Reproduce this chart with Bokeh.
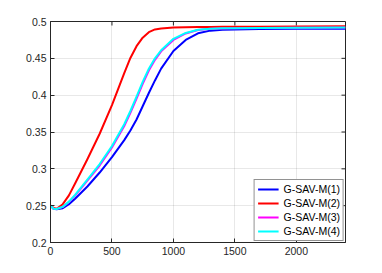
import math
from bokeh.plotting import figure
from bokeh.models import Range1d, FixedTicker, LinearAxis, Legend, LegendItem, CustomJSTickFormatter
from bokeh.embed import file_html
from bokeh.resources import INLINE

t  = [0, 25, 50, 100, 150, 200, 300, 400, 500, 600, 650, 700, 750, 800, 850, 900, 1000, 1100, 1200, 1300, 1400, 1500, 1700, 2000, 2400]
m1 = [0.250, 0.2458, 0.2452, 0.2465, 0.2520, 0.2595, 0.2760, 0.2950, 0.3160, 0.3390, 0.3520, 0.3670, 0.3850, 0.4030, 0.4200, 0.4360, 0.4600, 0.4750, 0.4840, 0.4876, 0.4887, 0.4893, 0.4897, 0.4900, 0.4903]
m2 = [0.250, 0.2470, 0.2458, 0.2520, 0.2640, 0.2800, 0.3130, 0.3476, 0.3865, 0.4300, 0.4505, 0.4665, 0.4780, 0.4855, 0.4892, 0.4905, 0.4918, 0.4922, 0.4925, 0.4927, 0.4928, 0.4929, 0.4930, 0.4932, 0.4935]
m3 = [0.250, 0.2458, 0.2455, 0.2483, 0.2550, 0.2638, 0.2840, 0.3045, 0.3290, 0.3580, 0.3760, 0.3955, 0.4155, 0.4335, 0.4480, 0.4595, 0.4750, 0.4838, 0.4884, 0.4900, 0.4906, 0.4909, 0.4911, 0.4914, 0.4918]
m4 = [0.250, 0.2458, 0.2455, 0.2485, 0.2555, 0.2645, 0.2855, 0.3065, 0.3310, 0.3605, 0.3785, 0.3980, 0.4180, 0.4360, 0.4500, 0.4610, 0.4765, 0.4845, 0.4888, 0.4902, 0.4907, 0.4910, 0.4912, 0.4915, 0.4920]
names = ["G-SAV-M(1)", "G-SAV-M(2)", "G-SAV-M(3)", "G-SAV-M(4)"]
colors = ["#0000ff", "#ff0000", "#ff00ff", "#00ffff"]
xticks = [0, 500, 1000, 1500, 2000]
yticks = [0.2, 0.25, 0.3, 0.35, 0.4, 0.45, 0.5]
xmin, xmax = 0, 2400
ymin, ymax = 0.2, 0.5

FONT = "Liberation Sans"
AX = "#262626"

p = figure(width=374, height=265, output_backend="svg", toolbar_location=None,
           x_range=Range1d(xmin, xmax), y_range=Range1d(ymin, ymax),
           min_border_left=50, min_border_right=29, min_border_top=21, min_border_bottom=23,
           x_axis_location=None, y_axis_location=None)
p.outline_line_color = AX
p.outline_line_width = 1

yfmt = CustomJSTickFormatter(code="var s = tick.toFixed(2); if (s.endsWith('0')) s = s.slice(0, -1); return s;")

def mk(side):
    ax = LinearAxis(ticker=FixedTicker(ticks=xticks if side == "below" else yticks))
    if side == "left":
        ax.formatter = yfmt
    ax.axis_line_color = AX
    ax.major_tick_line_color = AX
    ax.major_tick_in = 4
    ax.major_tick_out = 0
    ax.minor_tick_line_color = None
    ax.major_label_text_font = FONT
    ax.major_label_text_font_size = "10.5px"
    ax.major_label_text_color = AX
    ax.major_label_standoff = 4
    p.add_layout(ax, side)
    return ax

mk("below")
mk("left")

# inward ticks on top and right box edges
p.ray(x=xticks, y=[ymax] * len(xticks), length=4, length_units="screen",
      angle=-math.pi / 2, line_color=AX, line_width=1)
p.ray(x=[xmax] * len(yticks), y=yticks, length=4, length_units="screen",
      angle=math.pi, line_color=AX, line_width=1)

p.xgrid.ticker = FixedTicker(ticks=xticks)
p.ygrid.ticker = FixedTicker(ticks=yticks)
p.grid.grid_line_color = "#000000"
p.grid.grid_line_alpha = 0.09

series = [m1, m2, m3, m4]
renderers = []
for ys, c in zip(series, colors):
    r = p.line(t, ys, line_color=c, line_width=2, line_join="round")
    renderers.append(r)

legend = Legend(items=[LegendItem(label=n, renderers=[r]) for n, r in zip(names, renderers)],
                location="bottom_right")
legend.label_text_font = FONT
legend.label_text_font_size = "10.5px"
legend.label_text_color = "#000000"
legend.glyph_width = 21
legend.glyph_height = 12
legend.label_height = 12
legend.spacing = 2
legend.padding = 3
legend.margin = 1
legend.label_standoff = 5
legend.border_line_color = AX
legend.background_fill_alpha = 1
p.add_layout(legend)

open("out.html", "w").write(file_html(p, INLINE))
